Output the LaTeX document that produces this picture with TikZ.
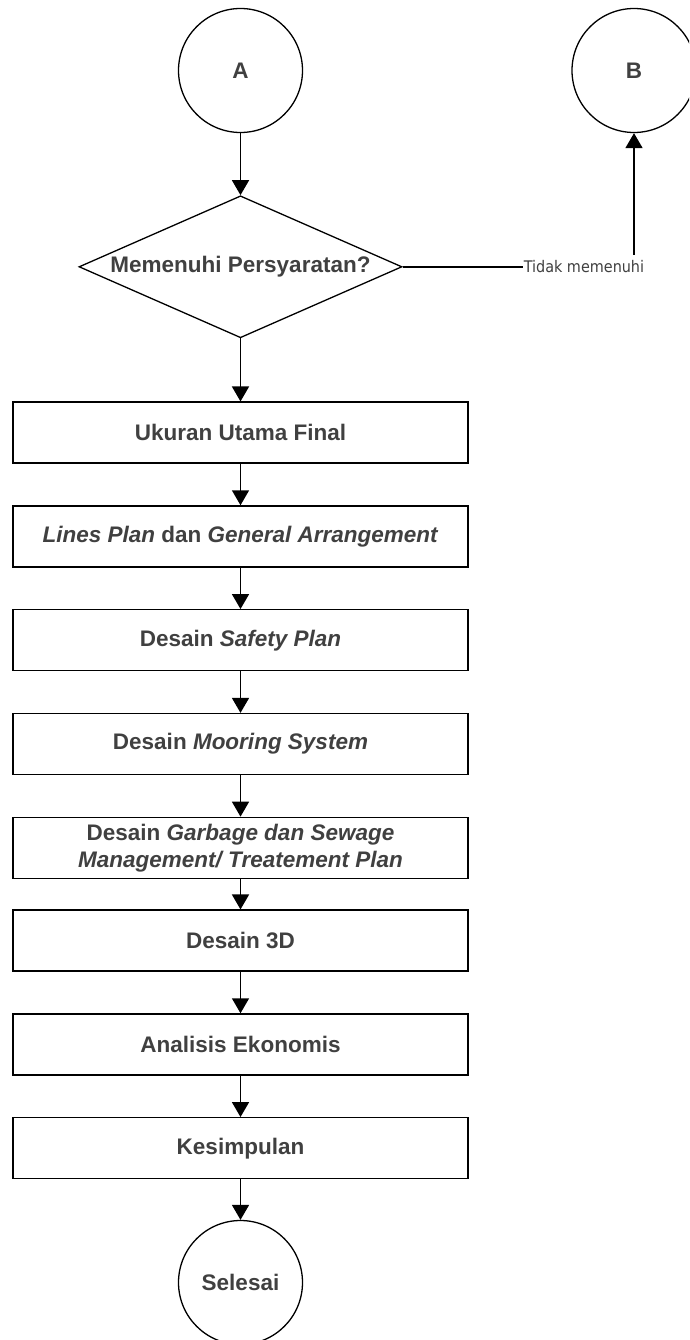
\documentclass[tikz,border=0pt]{standalone}
\usepackage{fontspec}
\setmainfont{Liberation Sans}
\newfontfamily\notefont{DejaVu Sans Condensed}
\usetikzlibrary{positioning,shapes.geometric,arrows.meta}
\definecolor{labelgray}{RGB}{64,64,64}
\tikzset{
  base/.style={draw=black, line width=1.3pt, text=labelgray,
    font=\fontsize{22.5}{27}\selectfont\bfseries, align=center},
  stepbox/.style={base, rectangle, minimum width=455pt, minimum height=61pt, inner sep=2pt},
  terminal/.style={base, circle, minimum size=124pt},
  decision/.style={base, diamond, aspect=2.25, minimum width=323pt, minimum height=142pt, inner sep=0pt},
  flow/.style={-{Triangle[length=15pt,width=17pt]}, line width=1.6pt}
}
\begin{document}
\begin{tikzpicture}[x=1pt,y=-1pt]
  \useasboundingbox (0,0) rectangle (689,1340);
  \clip (0,0) rectangle (689,1340);
  \node[terminal] (A) at (240.5,70.5) {A};
  \node[terminal] (B) at (634,70.5) {B};
  \node[decision, below=62pt of A] (syarat) {Memenuhi Persyaratan?};
  \node[stepbox, below=63pt of syarat] (ukuran) {Ukuran Utama Final};
  \node[stepbox, below=41.5pt of ukuran] (lines) {\textit{Lines Plan} dan \textit{General Arrangement}};
  \node[stepbox, below=41.5pt of lines] (safety) {Desain \textit{Safety Plan}};
  \node[stepbox, below=41.5pt of safety] (mooring) {Desain \textit{Mooring System}};
  \node[stepbox, below=41.5pt of mooring] (garbage) {Desain \textit{Garbage dan Sewage}\\\textit{Management/ Treatement Plan}};
  \node[stepbox, below=30.5pt of garbage] (tigad) {Desain 3D};
  \node[stepbox, below=41.5pt of tigad] (ekonomis) {Analisis Ekonomis};
  \node[stepbox, below=41.5pt of ekonomis] (simpulan) {Kesimpulan};
  \node[terminal, below=40.5pt of simpulan] (selesai) {Selesai};
  \node[right=120pt of syarat, text=labelgray, font=\notefont\fontsize{16}{19}\selectfont,
    inner xsep=1pt, inner ysep=5.5pt] (tidak) {Tidak memenuhi};

  \path[flow]
    (A) edge (syarat)
    (syarat) edge (ukuran)
    (ukuran) edge (lines)
    (lines) edge (safety)
    (safety) edge (mooring)
    (mooring) edge (garbage)
    (garbage) edge (tigad)
    (tigad) edge (ekonomis)
    (ekonomis) edge (simpulan)
    (simpulan) edge (selesai);
  \draw[line width=1.5pt] (syarat.east) -- (tidak.west);
  \draw[flow] (tidak.north -| B.south) -- (B.south);
\end{tikzpicture}
\end{document}
